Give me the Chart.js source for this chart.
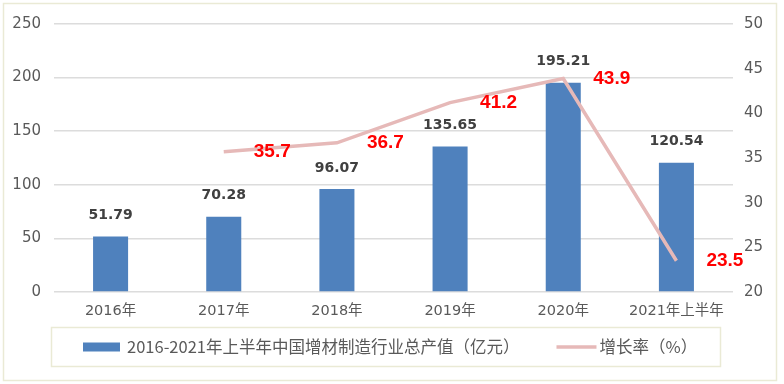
<!DOCTYPE html>
<html><head><meta charset="utf-8">
<script src="https://cdn.jsdelivr.net/npm/chart.js@4"></script>
<style>html,body{margin:0;padding:0;background:#fff}#wrap{position:relative;width:784px;height:384px}canvas{position:absolute;left:0;top:0}</style>
</head><body><div id="wrap"><canvas id="c" width="784" height="384"></canvas></div>
<script>
const categories = ['2016年','2017年','2018年','2019年','2020年','2021年上半年'];
const outputValues = [51.79, 70.28, 96.07, 135.65, 195.21, 120.54];
const growthRates = [null, 35.7, 36.7, 41.2, 43.9, 23.5];
const barLabel = '2016-2021年上半年中国增材制造行业总产值（亿元）';
const lineLabel = '增长率（%）';
const leftTicks = [0, 50, 100, 150, 200, 250];
const rightTicks = [20, 25, 30, 35, 40, 45, 50];

const BAR_COLOR = '#4F81BD';
const LINE_COLOR = '#E6B9B8';
const TICK_COLOR = '#595959';
const GRID_COLOR = '#DCDCDC';
const FRAME_COLOR = '#EAEAD5';

const framePlugin = {
  id: 'frame',
  beforeDraw(chart) {
    const ctx = chart.ctx;
    ctx.save();
    ctx.fillStyle = '#fff';
    ctx.fillRect(0, 0, chart.width, chart.height);
    ctx.strokeStyle = FRAME_COLOR;
    ctx.lineWidth = 1.5;
    ctx.strokeRect(3.5, 3.5, 773, 377);
    ctx.restore();
  }
};

const valueLabels = {
  id: 'valueLabels',
  afterDatasetsDraw(chart) {
    const ctx = chart.ctx;
    ctx.save();
    const barMeta = chart.getDatasetMeta(1);
    ctx.font = 'bold 14px "DejaVu Sans"';
    ctx.fillStyle = '#404040';
    ctx.textAlign = 'center';
    ctx.textBaseline = 'middle';
    barMeta.data.forEach((el, i) => {
      ctx.fillText(outputValues[i].toFixed(2), el.x, el.y - 21);
    });
    const lineMeta = chart.getDatasetMeta(0);
    ctx.font = 'bold 19px "Liberation Sans"';
    ctx.fillStyle = '#FF0000';
    ctx.textAlign = 'left';
    lineMeta.data.forEach((el, i) => {
      if (growthRates[i] == null) return;
      ctx.fillText(growthRates[i].toFixed(1), el.x + 30, el.y);
    });
    ctx.restore();
  }
};

const boxLegend = {
  id: 'boxLegend',
  afterDraw(chart) {
    const ctx = chart.ctx;
    ctx.save();
    ctx.strokeStyle = FRAME_COLOR;
    ctx.lineWidth = 1.5;
    ctx.strokeRect(51.5, 327.5, 669, 39);
    const cy = 347;
    const ds = chart.data.datasets;
    ctx.font = '16.5px "Noto Sans CJK SC"';
    ctx.textBaseline = 'middle';
    ctx.textAlign = 'left';
    let x = 83;
    ctx.fillStyle = ds[1].backgroundColor;
    ctx.fillRect(x, cy - 4.5, 37, 9);
    x += 44;
    ctx.fillStyle = TICK_COLOR;
    ctx.fillText(ds[1].label, x, cy);
    x += ctx.measureText(ds[1].label).width + 37;
    ctx.strokeStyle = ds[0].borderColor;
    ctx.lineWidth = 3.5;
    ctx.beginPath();
    ctx.moveTo(x, cy);
    ctx.lineTo(x + 40, cy);
    ctx.stroke();
    x += 43;
    ctx.fillText(ds[0].label, x, cy);
    ctx.restore();
  }
};

new Chart(document.getElementById('c'), {
  data: {
    labels: categories,
    datasets: [
      {
        type: 'line',
        label: lineLabel,
        data: growthRates,
        yAxisID: 'y1',
        borderColor: LINE_COLOR,
        backgroundColor: LINE_COLOR,
        borderWidth: 3.5,
        pointRadius: 0,
        tension: 0,
        spanGaps: false,
        order: 0
      },
      {
        type: 'bar',
        label: barLabel,
        data: outputValues,
        yAxisID: 'y',
        backgroundColor: BAR_COLOR,
        borderWidth: 0,
        categoryPercentage: 0.8,
        barPercentage: 0.387,
        order: 1
      }
    ]
  },
  options: {
    responsive: false,
    animation: false,
    devicePixelRatio: 1,
    layout: { padding: { top: 24, left: 0, right: 0, bottom: 62 } },
    plugins: { legend: { display: false }, tooltip: { enabled: false } },
    scales: {
      x: {
        offset: true,
        grid: { display: false, drawTicks: false },
        border: { display: false },
        ticks: { color: TICK_COLOR, font: { family: '"DejaVu Sans", "Noto Sans CJK SC"', size: 14.5 }, padding: 11, maxRotation: 0, autoSkip: false },
        afterFit(s) { s.height = 30; }
      },
      y: {
        position: 'left',
        min: leftTicks[0],
        max: leftTicks[leftTicks.length - 1],
        ticks: { stepSize: leftTicks[1] - leftTicks[0], color: TICK_COLOR, font: { family: '"DejaVu Sans"', size: 15 }, padding: 13 },
        grid: { color: GRID_COLOR, lineWidth: 1.5, drawTicks: false },
        border: { display: false },
        afterFit(s) { s.width = 54; }
      },
      y1: {
        position: 'right',
        min: rightTicks[0],
        max: rightTicks[rightTicks.length - 1],
        ticks: { stepSize: rightTicks[1] - rightTicks[0], color: TICK_COLOR, font: { family: '"DejaVu Sans"', size: 15 }, padding: 11 },
        grid: { drawOnChartArea: false, drawTicks: false },
        border: { display: false },
        afterFit(s) { s.width = 51; }
      }
    }
  },
  plugins: [framePlugin, valueLabels, boxLegend]
});
</script>
</body></html>
